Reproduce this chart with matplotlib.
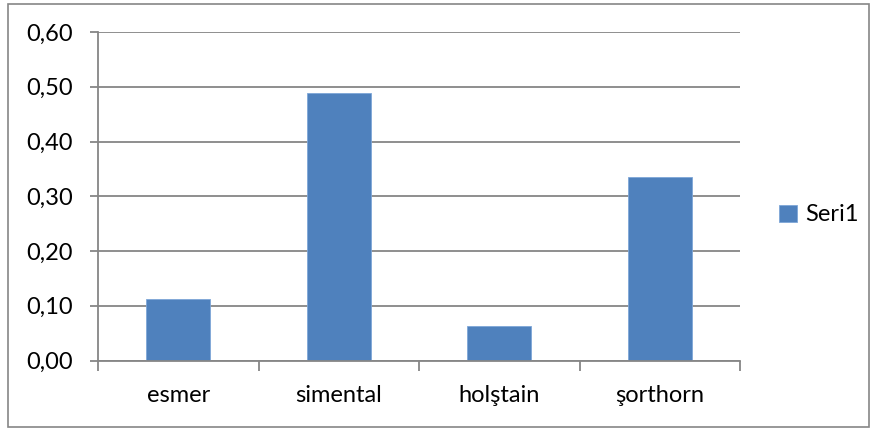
import matplotlib
matplotlib.use("Agg")
import matplotlib.pyplot as plt
from matplotlib.patches import Rectangle
from matplotlib.ticker import FixedLocator, FuncFormatter

categories = ["esmer", "simental", "holştain", "şorthorn"]
seri1 = [0.113, 0.488, 0.063, 0.335]
y_ticks = [0.0, 0.1, 0.2, 0.3, 0.4, 0.5, 0.6]
series_name = "Seri1"

plt.rcParams['font.family'] = ['Lato', 'DejaVu Sans']

grid_c = "#868686"
bar_c = "#4F81BD"
fs = 17

fig = plt.figure(figsize=(8.75, 4.32), dpi=100)
fig.patches.append(Rectangle((8 / 875, 5 / 432), 861 / 875, 423 / 432,
                             transform=fig.transFigure, fill=False,
                             edgecolor=grid_c, linewidth=1.2))

ax = fig.add_axes([98 / 875, 1 - 360.5 / 432, 642 / 875, 328.5 / 432])
x = list(range(len(categories)))
ax.bar(x, seri1, width=0.4, color=bar_c, edgecolor="#7EA6D8", linewidth=0.6,
       label=series_name, zorder=3)

ax.set_xlim(-0.5, len(categories) - 0.5)
ax.set_ylim(0, 0.6)
ax.set_yticks(y_ticks)
ax.yaxis.set_major_formatter(FuncFormatter(lambda v, p: f"{v:.2f}".replace(".", ",")))
ax.yaxis.grid(True, color=grid_c, linewidth=1.3, zorder=0)

ax.set_xticks(x)
ax.set_xticklabels(categories)
ax.xaxis.set_minor_locator(FixedLocator([i - 0.5 for i in range(len(categories) + 1)]))
ax.tick_params(axis="x", which="major", length=0, pad=18, labelsize=fs)
ax.tick_params(axis="x", which="minor", length=7, width=1.3, color=grid_c, direction="out")
ax.tick_params(axis="y", length=6, width=1.3, color=grid_c, pad=12, labelsize=fs)

for s in ["top", "right"]:
    ax.spines[s].set_visible(False)
for s in ["left", "bottom"]:
    ax.spines[s].set_color(grid_c)
    ax.spines[s].set_linewidth(1.3)
    ax.spines[s].set_zorder(4)

leg = fig.legend(loc="center left", bbox_to_anchor=(779 / 875, 1 - 215 / 432),
                 frameon=False, fontsize=fs, handlelength=0.75, handleheight=0.75,
                 handletextpad=0.35, borderaxespad=0, borderpad=0)

fig.savefig("out.png", dpi=100)
